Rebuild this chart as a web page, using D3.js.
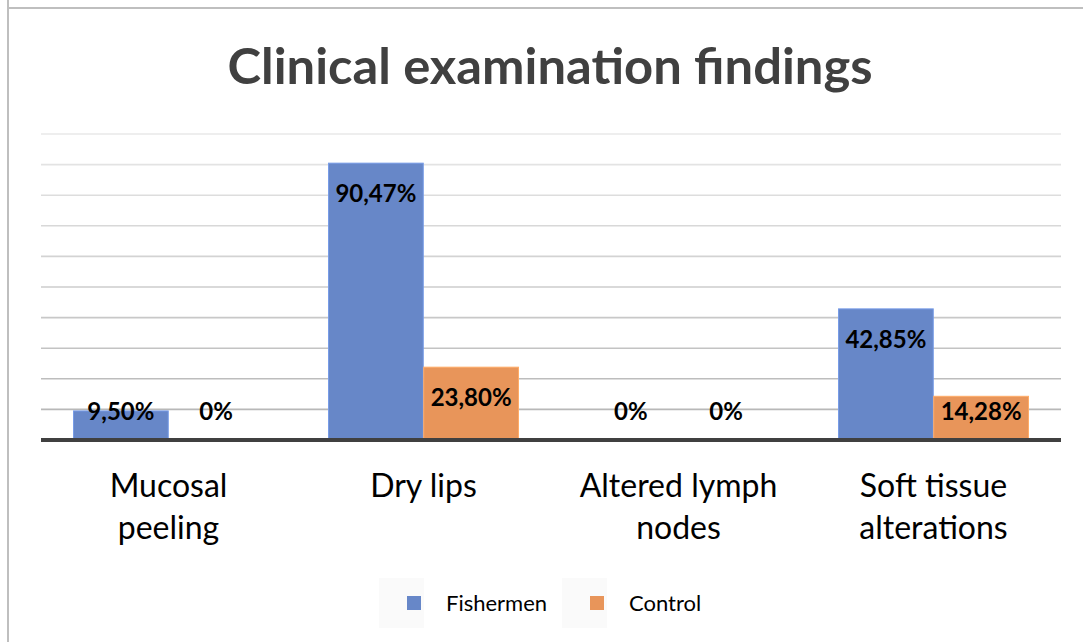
<!DOCTYPE html>
<html lang="en">
  <head>
    <meta charset="UTF-8" />
    <title>Clinical examination findings</title>
    <script src="https://d3js.org/d3.v7.min.js"></script>
    <style>
      body {
        margin: 0;
        background: #fff;
        font-family: Lato, "Open Sans", sans-serif;
      }
    </style>
  </head>
  <body>
    <svg id="chart" width="1083" height="642"></svg>

    <script>
      const categories = [
        ["Mucosal", "peeling"],
        ["Dry lips"],
        ["Altered lymph", "nodes"],
        ["Soft tissue", "alterations"],
      ];
      const seriesNames = ["Fishermen", "Control"];
      const fishermen = [9.5, 90.47, 0, 42.85];
      const control = [0, 23.8, 0, 14.28];
      const valueLabels = [
        ["9,50%", "90,47%", "0%", "42,85%"],
        ["0%", "23,80%", "0%", "14,28%"],
      ];
      const colors = ["#6787c8", "#e8955a"];

      const svg = d3.select("#chart");

      // frame
      svg.append("line").attr("x1", 8).attr("y1", 0).attr("x2", 8).attr("y2", 642)
        .attr("stroke", "#bfbfbf").attr("stroke-width", 2);
      svg.append("line").attr("x1", 7).attr("y1", 8).attr("x2", 1083).attr("y2", 8)
        .attr("stroke", "#bfbfbf").attr("stroke-width", 2);

      svg
        .append("text")
        .attr("x", 550)
        .attr("y", 84)
        .attr("text-anchor", "middle")
        .attr("textLength", 645)
        .attr("lengthAdjust", "spacingAndGlyphs")
        .style("font-size", "50px")
        .style("font-weight", "bold")
        .style("fill", "#404040")
        .text("Clinical examination findings");

      const plotLeft = 41, plotRight = 1061, plotTop = 134, plotBottom = 440;

      const x = d3.scaleBand().domain(d3.range(categories.length)).range([plotLeft, plotRight]).paddingInner(0.255).paddingOuter(0.1275);
      const xs = d3.scaleBand().domain([0, 1]).range([0, x.bandwidth()]).paddingInner(0.005);
      const y = d3.scaleLinear().domain([0, 100]).range([plotBottom, plotTop]);

      const ticks = d3.range(10, 101, 10);
      const gridColor = d3.scaleLinear().domain([10, 100]).range(["#b8b8b8", "#e8e8e8"]);
      svg
        .selectAll(".grid")
        .data(ticks)
        .enter()
        .append("line")
        .attr("x1", plotLeft)
        .attr("x2", plotRight)
        .attr("y1", (d) => y(d))
        .attr("y2", (d) => y(d))
        .attr("stroke", (d) => gridColor(d))
        .attr("stroke-width", 1.6);

      const series = [fishermen, control];
      series.forEach((vals, s) => {
        svg
          .selectAll(".bar" + s)
          .data(vals)
          .enter()
          .append("rect")
          .attr("x", (d, i) => x(i) + xs(s))
          .attr("width", xs.bandwidth())
          .attr("y", (d) => y(d))
          .attr("height", (d) => plotBottom - y(d))
          .attr("fill", colors[s])
          .attr("stroke", d3.color(colors[s]).brighter(0.4))
          .attr("stroke-width", 1);
      });

      svg
        .append("line")
        .attr("x1", plotLeft)
        .attr("x2", plotRight)
        .attr("y1", plotBottom)
        .attr("y2", plotBottom)
        .attr("stroke", "#404040")
        .attr("stroke-width", 4);

      series.forEach((vals, s) => {
        svg
          .selectAll(".lbl" + s)
          .data(vals)
          .enter()
          .append("text")
          .attr("x", (d, i) => x(i) + xs(s) + xs.bandwidth() / 2)
          .attr("y", (d) => Math.min(y(d) + 30, plotBottom - 29))
          .attr("dy", "0.36em")
          .attr("text-anchor", "middle")
          .style("font-size", "24px")
          .style("font-weight", "bold")
          .style("fill", "#000")
          .text((d, i) => valueLabels[s][i]);
      });

      const cat = svg
        .selectAll(".cat")
        .data(categories)
        .enter()
        .append("text")
        .attr("text-anchor", "middle")
        .style("font-size", "32px")
        .style("fill", "#000");
      cat
        .selectAll("tspan")
        .data((d, i) => d.map((t) => ({ t, i })))
        .enter()
        .append("tspan")
        .attr("x", (d) => x(d.i) + x.bandwidth() / 2)
        .attr("y", (d, j) => 497 + j * 42)
        .text((d) => d.t);

      const legendX = [407, 590];
      seriesNames.forEach((name, s) => {
        svg.append("rect").attr("x", legendX[s] - 28).attr("y", 578).attr("width", 45).attr("height", 50).attr("fill", "#fafafa");
        svg
          .append("rect")
          .attr("x", legendX[s])
          .attr("y", 596)
          .attr("width", 14)
          .attr("height", 14)
          .attr("fill", colors[s]);
        svg
          .append("text")
          .attr("x", legendX[s] + 39)
          .attr("y", 611)
          .style("font-size", "22px")
          .style("fill", "#000")
          .text(name);
      });
    </script>
  </body>
</html>
